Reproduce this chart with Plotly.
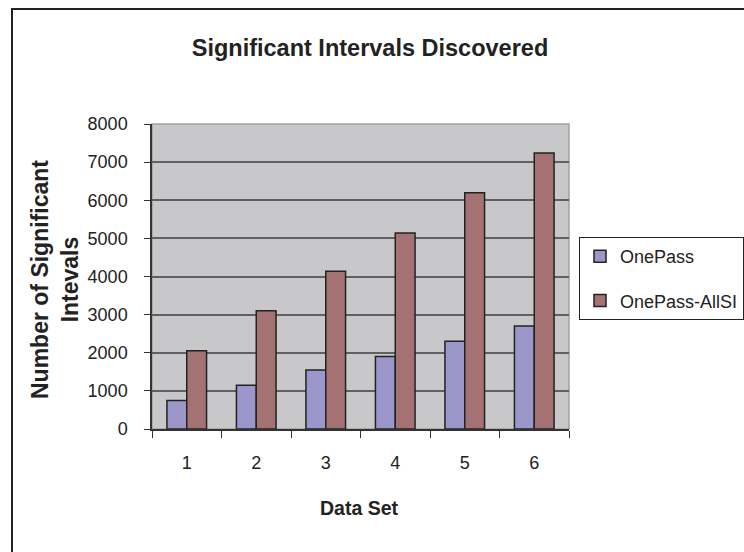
import plotly.graph_objects as go

categories = ["1", "2", "3", "4", "5", "6"]
onepass = [750, 1150, 1550, 1900, 2300, 2700]
onepass_allsi = [2050, 3100, 4140, 5140, 6200, 7240]
series_names = ["OnePass", "OnePass-AllSI"]
y_ticks = [0, 1000, 2000, 3000, 4000, 5000, 6000, 7000, 8000]

FONT = "Liberation Sans, Arial, sans-serif"
W, H = 744, 552
L, R, T, B = 152, 569, 124, 429

fig = go.Figure()
fig.add_trace(go.Bar(x=categories, y=onepass, name=series_names[0],
                     marker=dict(color="#9C97CB", line=dict(color="#222222", width=1.5)),
                     legendgroup="a"))
fig.add_trace(go.Bar(x=categories, y=onepass_allsi, name=series_names[1],
                     marker=dict(color="#A57273", line=dict(color="#222222", width=1.5)),
                     legendgroup="b"))

pw, ph = R - L, B - T
def px(x):
    return (x - L) / pw
def py(y):
    return (B - y) / ph

fig.update_layout(
    width=W, height=H,
    margin=dict(l=L, r=W - R, t=T, b=H - B, autoexpand=False),
    paper_bgcolor="white",
    plot_bgcolor="#C8C8CA",
    font=dict(family=FONT, size=18, color="#222222"),
    barmode="group", bargap=0.43, bargroupgap=0,
    title=dict(text="<b>Significant Intervals Discovered</b>", x=px(370), xref="paper",
               xanchor="center", y=1 - 48 / H, yanchor="middle",
               font=dict(size=23.5, family=FONT, color="#222222")),
    legend=dict(x=px(579), y=py(237), xanchor="left", yanchor="top",
                bgcolor="white", bordercolor="#222222", borderwidth=1,
                font=dict(size=18, family=FONT, color="#222222"),
                traceorder="grouped", tracegroupgap=18),
    showlegend=True,
)
fig.update_xaxes(
    type="category", showgrid=False, showline=True, linecolor="#333333", linewidth=1.5,
    ticks="outside", tickson="boundaries", ticklen=7, tickcolor="#333333", tickwidth=1,
    ticklabelstandoff=17, tickfont=dict(size=18),
)
fig.update_yaxes(
    range=[0, 8000], tickvals=y_ticks, showgrid=True, gridcolor="#606060", gridwidth=1.5,
    showline=True, linecolor="#333333", linewidth=1.5,
    ticks="outside", ticklen=6, tickcolor="#333333", tickwidth=1,
    ticklabelstandoff=13, zeroline=False, tickfont=dict(size=18),
)
# axis titles
fig.add_annotation(text="<b>Number of Significant<br>Intevals</b>", xref="paper", yref="paper",
                   x=px(55), y=py(280), xanchor="center", yanchor="middle", textangle=-90,
                   showarrow=False, font=dict(size=23, family=FONT, color="#222222"))
fig.add_annotation(text="<b>Data Set</b>", xref="paper", yref="paper",
                   x=px(359), y=py(508), xanchor="center", yanchor="middle",
                   showarrow=False, font=dict(size=19.5, family=FONT, color="#222222"))
# plot-area light frame (top/right)
fig.add_shape(type="rect", xref="paper", yref="paper", x0=0, y0=0, x1=1, y1=1,
              line=dict(color="#A0A0A0", width=1.5), fillcolor="rgba(0,0,0,0)", layer="below")
# outer chart frame
fig.add_shape(type="rect", xref="paper", yref="paper", x0=px(12), y0=py(9), x1=px(760), y1=py(570),
              line=dict(color="#222222", width=2), fillcolor="rgba(0,0,0,0)", layer="above")

fig.write_html("out.html")
